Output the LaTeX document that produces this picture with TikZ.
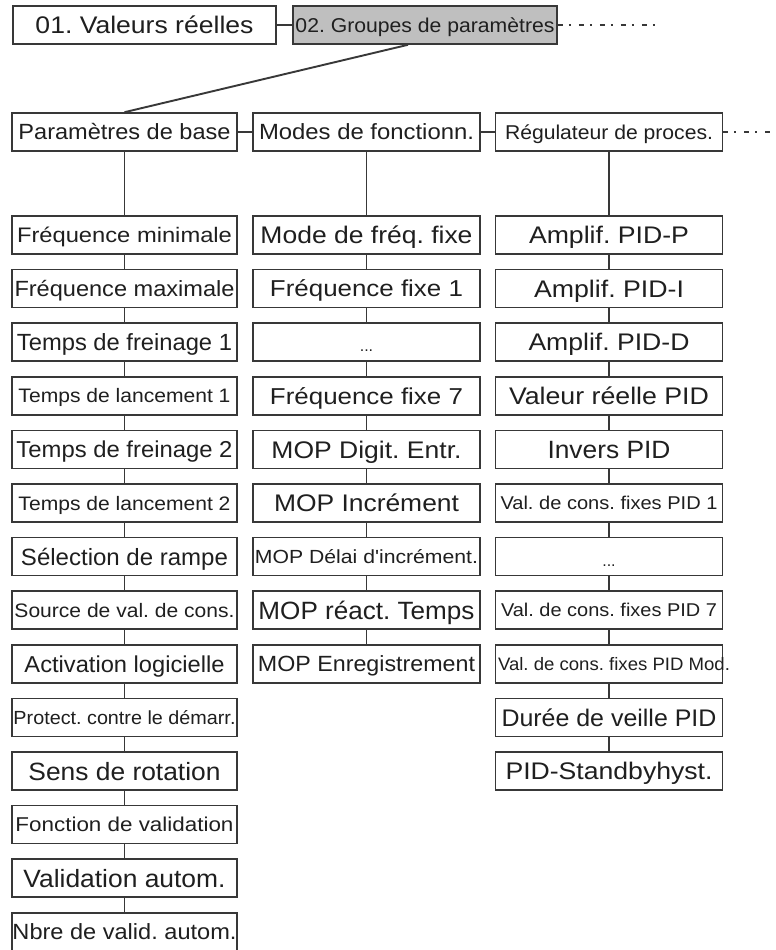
\documentclass[tikz,border=0pt]{standalone}
\usepackage{fontspec}
\setmainfont{Liberation Sans}
\usepackage{graphicx}
\usetikzlibrary{calc}
\frenchspacing

% label: #1 target width (pt), #2 font size (pt), #3 text; cap height centred in the box
\newcommand\lbl[3]{\fontsize{#2}{#2}\selectfont\rule{0pt}{0.72em}\smash{\resizebox{#1pt}{\height}{#3}}}
% ellipsis placeholder row, set low in its box
\newcommand\ellip{\fontsize{16}{16}\selectfont\rule{0pt}{0.72em}\smash{\raisebox{-4pt}{...}}}

\tikzset{
  box/.style={draw=black!78, line width=1.6pt, fill=white, rectangle,
    minimum width=225pt, minimum height=38pt, inner sep=0pt, text=black!88},
  sel/.style={box, fill=black!25},
  link/.style={draw=black!78, line width=1.4pt},
  trail/.style={draw=black!78, line width=1.4pt,
    dash pattern=on 5pt off 6pt on 2pt off 8pt},
}

\begin{document}
\begin{tikzpicture}[x=1pt, y=-1pt]
\useasboundingbox[fill=white] (0,0) rectangle (776,950);

% menu bar
\node[box, minimum width=263pt] (g01) at (144.5,25)
  {\lbl{218}{24}{01. Valeurs réelles}\hspace{21pt}};
\node[sel, minimum width=264pt] (g02) at (425,25)
  {\lbl{259}{20}{02. Groupes de paramètres}};
\coordinate (t1) at (662,25);

% parameter groups
\node[box] (base) at (124.5,132) {\lbl{212}{22}{Paramètres de base}};
\node[box, minimum width=227pt] (modes) at (366.5,132) {\lbl{215}{22}{Modes de fonctionn.}};
\node[box, minimum width=227pt] (reg) at (609,132) {\lbl{208}{20}{Régulateur de proces.}};
\coordinate (t2) at (774,132);

% basic parameters
\foreach \t/\w/\s [count=\i] in {
  Fréquence minimale/215/21,
  Fréquence maximale/220/22,
  Temps de freinage 1/215/23.4,
  Temps de lancement 1/212/19.5,
  Temps de freinage 2/216/23,
  Temps de lancement 2/212/19.5,
  Sélection de rampe/207/23.5,
  Source de val. de cons./220/19.5,
  Activation logicielle/200/23,
  Protect. contre le démarr./222/19,
  Sens de rotation/192/25,
  Fonction de validation/218/20,
  Validation autom./202/25,
  Nbre de valid. autom./224/22}
  \node[box] (L\i) at (124.5,{235+(\i-1)*53.6}) {\lbl{\w}{\s}{\t}};

% operating modes
\foreach \t/\w/\s [count=\i] in {
  Mode de fréq. fixe/212/24,
  Fréquence fixe 1/193/23,
  \ellip/0/0,
  Fréquence fixe 7/193/23,
  MOP Digit. Entr./190/24,
  MOP Incrément/185/24,
  MOP Délai d\textquotesingle incrément./223/19,
  MOP réact. Temps/216/25,
  MOP Enregistrement/217/22}
  {
  \ifnum\w=0
    \node[box, minimum width=227pt] (M\i) at (366.5,{235+(\i-1)*53.6}) {\t};
  \else
    \node[box, minimum width=227pt] (M\i) at (366.5,{235+(\i-1)*53.6}) {\lbl{\w}{\s}{\t}};
  \fi
  }

% process controller
\foreach \t/\w/\s [count=\i] in {
  Amplif. PID-P/160/24,
  Amplif. PID-I/150/24,
  Amplif. PID-D/161/24,
  Valeur réelle PID/200/24,
  Invers PID/123/25,
  Val. de cons. fixes PID 1/217/18.5,
  \ellip/0/0,
  Val. de cons. fixes PID 7/216/18.5,
  {\makebox[0pt]{\hspace{10pt}\lbl{232}{18}{Val. de cons. fixes PID Mod.}}}/0/0,
  Durée de veille PID/215/24,
  PID-Standbyhyst./207/24}
  {
  \ifnum\w=0
    \node[box, minimum width=227pt] (R\i) at (609,{235+(\i-1)*53.6}) {\t};
  \else
    \node[box, minimum width=227pt] (R\i) at (609,{235+(\i-1)*53.6}) {\lbl{\w}{\s}{\t}};
  \fi
  }

% connectors
\draw[link] (g01.east) -- (g02.west);
\draw[trail] (g02.east) -- (t1);
\draw[link, line width=1.9pt] ([xshift=-17pt]g02.south) -- (base.north);
\draw[link] (base.east) -- (modes.west);
\draw[link] (modes.east) -- (reg.west);
\draw[trail] (reg.east) -- (t2);
\draw[link] (base.south) -- (L1.north);
\draw[link] (modes.south) -- (M1.north);
\draw[link] (reg.south) -- (R1.north);
\foreach \i [evaluate=\i as \j using int(\i+1)] in {1,...,13}
  \draw[link] (L\i.south) -- (L\j.north);
\foreach \i [evaluate=\i as \j using int(\i+1)] in {1,...,8}
  \draw[link] (M\i.south) -- (M\j.north);
\foreach \i [evaluate=\i as \j using int(\i+1)] in {1,...,10}
  \draw[link] (R\i.south) -- (R\j.north);
\end{tikzpicture}
\end{document}
